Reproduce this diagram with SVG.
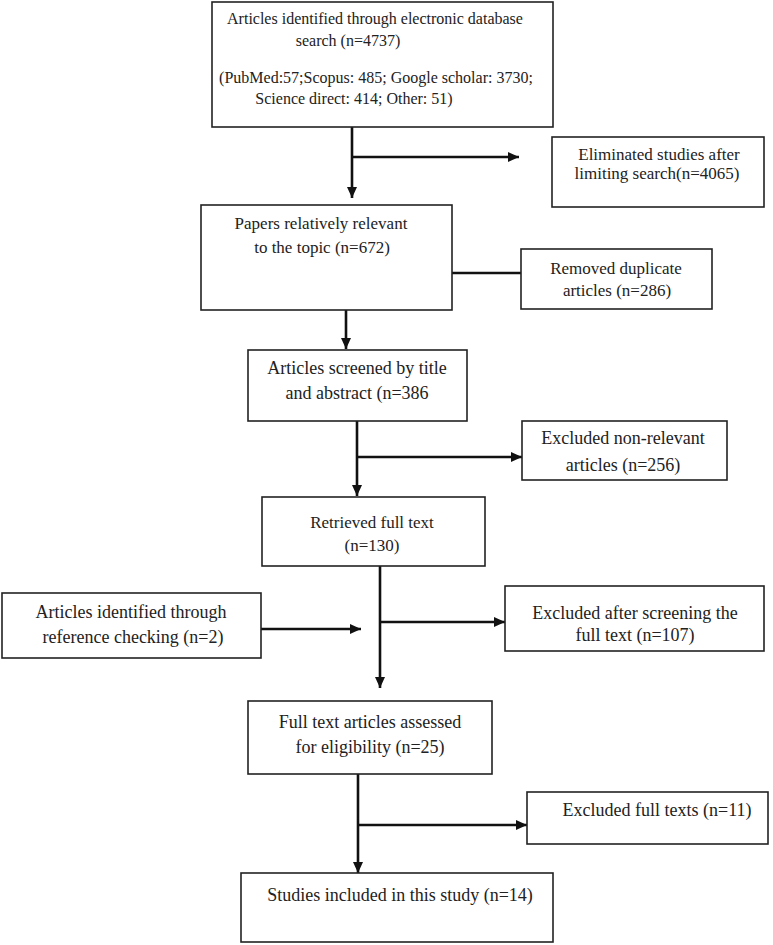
<svg xmlns="http://www.w3.org/2000/svg" width="773" height="945" viewBox="0 0 773 945">
<defs>
<marker id="ah" markerUnits="userSpaceOnUse" markerWidth="11" markerHeight="10" refX="11" refY="5" orient="auto">
<path d="M0,0 L11,5 L0,10 z" fill="#111"/>
</marker>
<style>
.box{fill:#fff;stroke:#222;stroke-width:1.6}
.t{font-family:"Liberation Serif","Times New Roman",serif;font-size:18px;fill:#222;text-anchor:middle}
.m{font-size:17px}
.s{font-size:16px}
.c{fill:none;stroke:#111;stroke-width:2.6}
.a{marker-end:url(#ah)}
</style>
</defs>
<rect width="773" height="945" fill="#fff"/>
<g id="connectors">
<line class="c a" x1="352" y1="127" x2="352" y2="198"/>
<line class="c a" x1="352" y1="157" x2="519" y2="157"/>
<line class="c" x1="452" y1="273" x2="521" y2="273"/>
<line class="c a" x1="346" y1="310" x2="346" y2="349"/>
<line class="c a" x1="357" y1="421" x2="357" y2="496"/>
<line class="c a" x1="357" y1="457" x2="522" y2="457"/>
<line class="c a" x1="380" y1="566" x2="380" y2="688"/>
<line class="c a" x1="380" y1="622" x2="505" y2="622"/>
<line class="c a" x1="261" y1="629" x2="361" y2="629"/>
<line class="c a" x1="358" y1="774" x2="358" y2="873"/>
<line class="c a" x1="358" y1="825" x2="527" y2="825"/>
</g>
<g id="identified">
<rect class="box" x="212" y="2" width="341" height="125"/>
<text class="t s" x="375" y="24">Articles identified through electronic database</text>
<text class="t s" x="348" y="46">search (n=4737)</text>
<text class="t s" x="376" y="83">(PubMed:57;Scopus: 485; Google scholar: 3730;</text>
<text class="t s" x="354" y="104">Science direct: 414; Other: 51)</text>
</g>
<g id="eliminated">
<rect class="box" x="552" y="137" width="212" height="70"/>
<text class="t m" x="659" y="160">Eliminated studies after</text>
<text class="t m" x="657" y="179">limiting search(n=4065)</text>
</g>
<g id="papers">
<rect class="box" x="201" y="205" width="251" height="105"/>
<text class="t m" x="321" y="229">Papers relatively relevant</text>
<text class="t m" x="322" y="253">to the topic (n=672)</text>
</g>
<g id="duplicates">
<rect class="box" x="521" y="249" width="191" height="60"/>
<text class="t m" x="616" y="274">Removed duplicate</text>
<text class="t m" x="617" y="296">articles (n=286)</text>
</g>
<g id="screened">
<rect class="box" x="248" y="350" width="219" height="71"/>
<text class="t" x="357" y="374">Articles screened by title</text>
<text class="t" x="357" y="399">and abstract (n=386</text>
</g>
<g id="nonrelevant">
<rect class="box" x="522" y="421" width="205" height="59"/>
<text class="t" x="623" y="444">Excluded non-relevant</text>
<text class="t" x="623" y="471">articles (n=256)</text>
</g>
<g id="retrieved">
<rect class="box" x="262" y="497" width="223" height="69"/>
<text class="t m" x="372" y="528">Retrieved full text</text>
<text class="t m" x="372" y="551">(n=130)</text>
</g>
<g id="reference">
<rect class="box" x="2" y="593" width="259" height="65"/>
<text class="t" x="131" y="618">Articles identified through</text>
<text class="t" x="133" y="643">reference checking (n=2)</text>
</g>
<g id="excluded-screening">
<rect class="box" x="505" y="586" width="259" height="65"/>
<text class="t" x="635" y="619">Excluded after screening the</text>
<text class="t" x="635" y="641">full text (n=107)</text>
</g>
<g id="assessed">
<rect class="box" x="248" y="701" width="244" height="73"/>
<text class="t" x="370" y="728">Full text articles assessed</text>
<text class="t" x="370" y="753">for eligibility (n=25)</text>
</g>
<g id="excluded-full">
<rect class="box" x="527" y="792" width="241" height="52"/>
<text class="t" x="657" y="816">Excluded full texts (n=11)</text>
</g>
<g id="included">
<rect class="box" x="241" y="873" width="312" height="69"/>
<text class="t" x="400" y="901">Studies included in this study (n=14)</text>
</g>
</svg>
